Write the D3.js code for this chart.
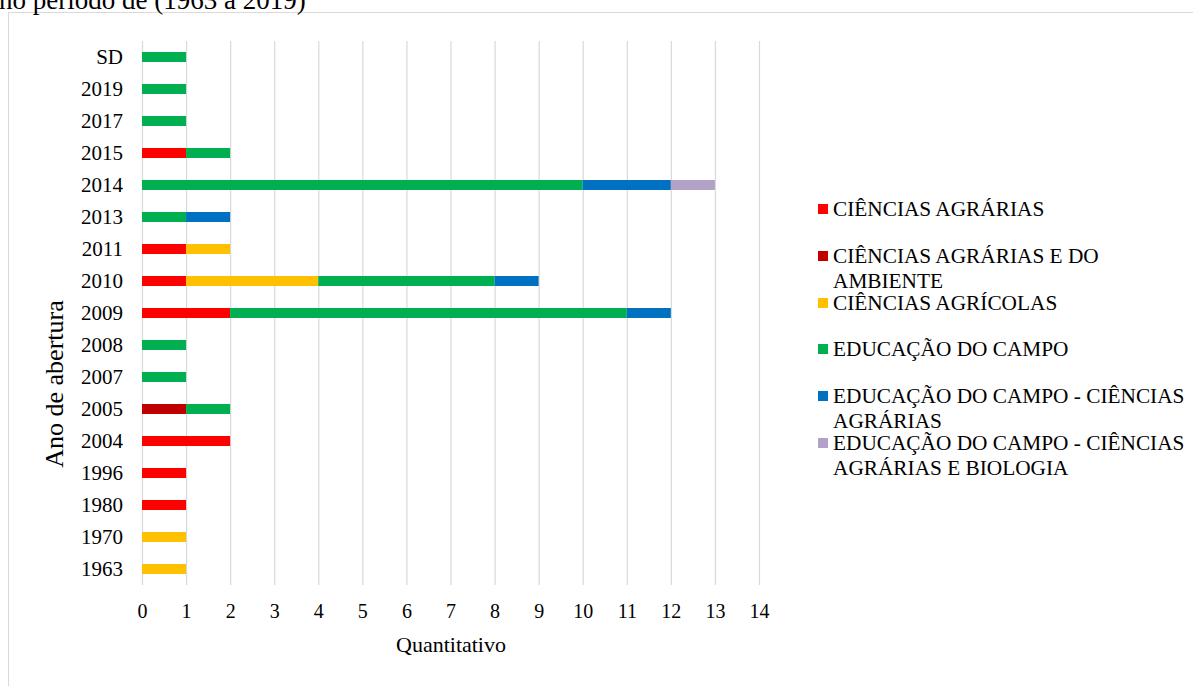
<!DOCTYPE html>
<html>
<head>
<meta charset="utf-8">
<script src="https://cdn.jsdelivr.net/npm/d3@7"></script>
<style>
  html, body { margin: 0; padding: 0; background: #fff; }
  svg { display: block; }
</style>
</head>
<body>
<svg id="chart" width="1193" height="686"></svg>
<script>
// Year of opening (top to bottom as displayed)
const categories = ["SD", "2019", "2017", "2015", "2014", "2013", "2011", "2010", "2009",
                    "2008", "2007", "2005", "2004", "1996", "1980", "1970", "1963"];

// Series, in stacking order
const seriesNames = [
  "CIÊNCIAS AGRÁRIAS",
  "CIÊNCIAS AGRÁRIAS E DO AMBIENTE",
  "CIÊNCIAS AGRÍCOLAS",
  "EDUCAÇÃO DO CAMPO",
  "EDUCAÇÃO DO CAMPO - CIÊNCIAS AGRÁRIAS",
  "EDUCAÇÃO DO CAMPO - CIÊNCIAS AGRÁRIAS E BIOLOGIA"
];
// Legend labels as wrapped lines
const legendLines = [
  ["CIÊNCIAS AGRÁRIAS"],
  ["CIÊNCIAS AGRÁRIAS E DO", "AMBIENTE"],
  ["CIÊNCIAS AGRÍCOLAS"],
  ["EDUCAÇÃO DO CAMPO"],
  ["EDUCAÇÃO DO CAMPO - CIÊNCIAS", "AGRÁRIAS"],
  ["EDUCAÇÃO DO CAMPO - CIÊNCIAS", "AGRÁRIAS E BIOLOGIA"]
];
const seriesColors = ["#FF0000", "#C00000", "#FFC000", "#00B050", "#0070C0", "#B3A2C7"];

// Counts per category (same order as categories)
const cienciasAgrarias       = [0, 0, 0, 1, 0, 0, 1, 1, 2, 0, 0, 0, 2, 1, 1, 0, 0];
const cienciasAgrariasAmb    = [0, 0, 0, 0, 0, 0, 0, 0, 0, 0, 0, 1, 0, 0, 0, 0, 0];
const cienciasAgricolas      = [0, 0, 0, 0, 0, 0, 1, 3, 0, 0, 0, 0, 0, 0, 0, 1, 1];
const educacaoCampo          = [1, 1, 1, 1, 10, 1, 0, 4, 9, 1, 1, 1, 0, 0, 0, 0, 0];
const educacaoCampoCA        = [0, 0, 0, 0, 2, 1, 0, 1, 1, 0, 0, 0, 0, 0, 0, 0, 0];
const educacaoCampoCAB       = [0, 0, 0, 0, 1, 0, 0, 0, 0, 0, 0, 0, 0, 0, 0, 0, 0];

const xTicks = d3.range(0, 15);

const seriesValues = [cienciasAgrarias, cienciasAgrariasAmb, cienciasAgricolas,
                      educacaoCampo, educacaoCampoCA, educacaoCampoCAB];

// Table for d3.stack
const table = categories.map((c, i) => {
  const row = { cat: c };
  seriesNames.forEach((s, k) => { row[s] = seriesValues[k][i]; });
  return row;
});

const SERIF = "'Liberation Serif', 'Times New Roman', serif";

const svg = d3.select("#chart");
const W = 1193, H = 686;
svg.append("rect").attr("width", W).attr("height", H).attr("fill", "#fff");

// Chart frame
svg.append("path")
  .attr("d", `M8.5,${H} V12.5 H${W}`)
  .attr("fill", "none")
  .attr("stroke", "#d9d9d9")
  .attr("stroke-width", 1);

// Caption line above the frame
svg.append("text")
  .attr("x", -1).attr("y", 8.5)
  .style("font-family", SERIF)
  .style("font-size", "27px")
  .attr("fill", "#000")
  .text("no período de (1963 a 2019)");

const plot = { left: 142, right: 759, top: 41, bottom: 585 };

const x = d3.scaleLinear().domain([0, 14]).range([plot.left, plot.right]);
const y = d3.scaleBand().domain(categories).range([plot.top, plot.bottom])
  .paddingInner(0.6875).paddingOuter(0.34375);

// Vertical gridlines + tick labels
const xAxis = svg.append("g")
  .attr("transform", `translate(0,${plot.bottom})`)
  .call(d3.axisBottom(x).tickValues(xTicks).tickFormat(d3.format("d"))
    .tickSize(-(plot.bottom - plot.top)).tickPadding(19));
xAxis.select(".domain").remove();
xAxis.selectAll(".tick line").attr("stroke", "#d9d9d9").attr("stroke-width", 1.2);
xAxis.selectAll(".tick text")
  .style("font-family", SERIF)
  .style("font-size", "20px").attr("fill", "#000");

// Category labels
const yAxis = svg.append("g")
  .attr("transform", `translate(${plot.left},0)`)
  .call(d3.axisLeft(y).tickSize(0).tickPadding(19));
yAxis.select(".domain").remove();
yAxis.selectAll(".tick text")
  .style("font-family", SERIF)
  .style("font-size", "21px").attr("fill", "#000");

// Stacked bars
const stacked = d3.stack().keys(seriesNames)(table);
svg.append("g").selectAll("g")
  .data(stacked)
  .join("g")
  .attr("fill", (d, i) => seriesColors[i])
  .selectAll("rect")
  .data(d => d.filter(p => p[1] - p[0] > 0))
  .join("rect")
  .attr("x", d => x(d[0]))
  .attr("y", d => y(d.data.cat))
  .attr("width", d => x(d[1]) - x(d[0]))
  .attr("height", y.bandwidth());

// Axis titles
svg.append("text")
  .attr("transform", "translate(63,384) rotate(-90)")
  .attr("text-anchor", "middle")
  .style("font-family", SERIF)
  .style("font-size", "26px")
  .attr("fill", "#000")
  .text("Ano de abertura");

svg.append("text")
  .attr("x", 451).attr("y", 652)
  .attr("text-anchor", "middle")
  .style("font-family", SERIF)
  .style("font-size", "22px")
  .attr("fill", "#000")
  .text("Quantitativo");

// Legend
const legendY = [209, 256, 303, 349, 396, 443];
const lg = svg.append("g");
legendLines.forEach((lines, i) => {
  const cy = legendY[i];
  lg.append("rect")
    .attr("x", 818).attr("y", cy - 5)
    .attr("width", 10).attr("height", 10)
    .attr("fill", seriesColors[i]);
  lines.forEach((t, j) => {
    lg.append("text")
      .attr("x", 833).attr("y", cy + 7 + j * 24.5)
      .style("font-family", SERIF)
      .style("font-size", "21.3px")
      .attr("fill", "#000")
      .text(t);
  });
});
</script>
</body>
</html>
